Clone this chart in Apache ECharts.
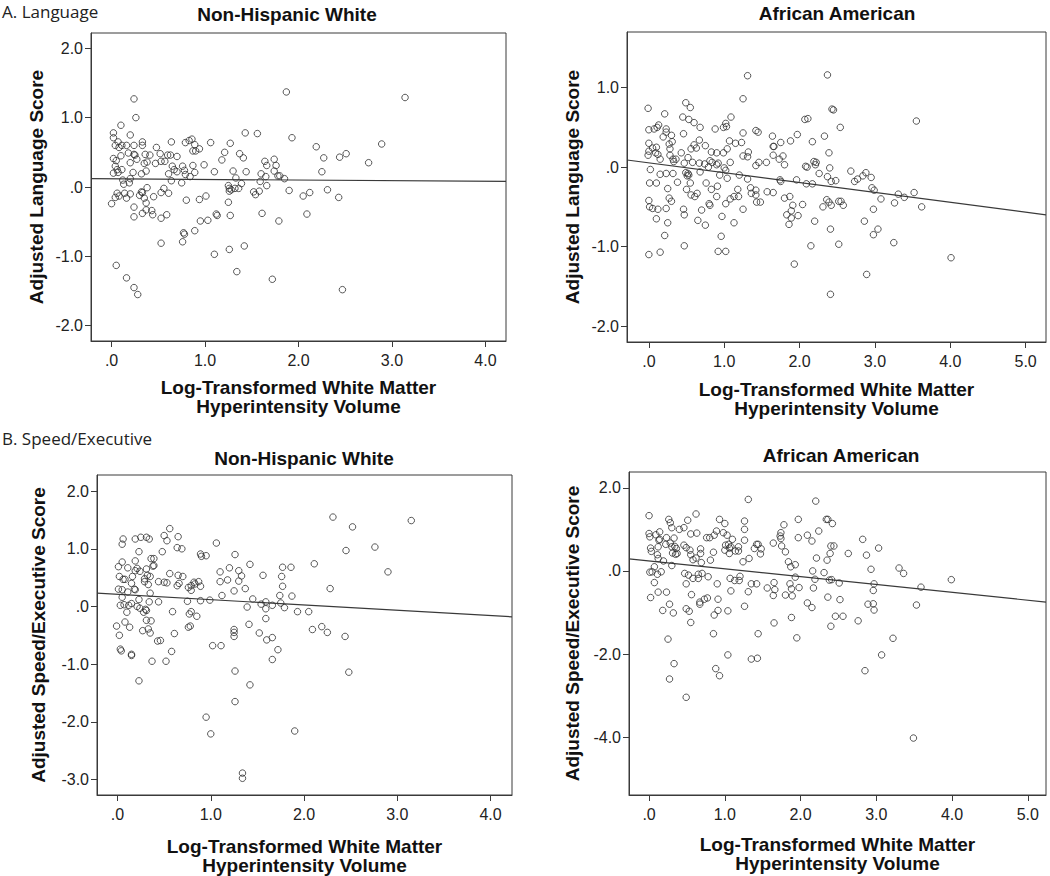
<!DOCTYPE html>
<html>
<head>
<meta charset="utf-8">
<script src="https://cdn.jsdelivr.net/npm/echarts@6.0.0/dist/echarts.min.js"></script>
<style>
html,body{margin:0;padding:0;background:#fff;}
#chart{width:1050px;height:876px;}
</style>
</head>
<body>
<div id="chart"></div>
<script>
// ---------- DATA ----------
const sectionLabels = ["A. Language", "B. Speed/Executive"];
const panelTitles = ["Non-Hispanic White", "African American", "Non-Hispanic White", "African American"];
const yNames = ["Adjusted Language Score", "Adjusted Language Score", "Adjusted Speed/Executive Score", "Adjusted Speed/Executive Score"];
const xName = "Log-Transformed White Matter\nHyperintensity Volume";

const xTicksWhite = [0, 1, 2, 3, 4];
const xTicksAA = [0, 1, 2, 3, 4, 5];
const yTicksLangWhite = [-2, -1, 0, 1, 2];
const yTicksLangAA = [-2, -1, 0, 1];
const yTicksSpeedWhite = [-3, -2, -1, 0, 1, 2];
const yTicksSpeedAA = [-4, -2, 0, 2];

const langWhite = [
[0.24,1.27],[0.26,1.0],[1.87,1.37],[3.14,1.29],[0.10,0.89],
[0.02,0.78],[0.02,0.71],[0.20,0.75],[1.43,0.78],[1.56,0.77],[1.93,0.71],[2.89,0.62],[2.19,0.58],[1.06,0.64],[1.27,0.63],[0.64,0.65],
[0.79,0.64],[0.83,0.67],[0.86,0.69],[0.89,0.61],[0.94,0.55],[0.87,0.52],[0.90,0.52],[0.48,0.57],[0.33,0.65],[0.33,0.60],[0.24,0.60],[0.16,0.60],[0.11,0.60],[0.04,0.60],[0.07,0.65],[0.08,0.57],
[0.18,0.49],[0.24,0.47],[0.25,0.46],[0.36,0.47],[0.41,0.46],[0.52,0.48],[0.60,0.46],[0.63,0.46],[0.70,0.44],[1.21,0.50],[1.37,0.48],[1.41,0.42],[2.27,0.42],[2.44,0.43],[2.51,0.48],[2.75,0.35],
[1.18,0.39],[1.64,0.37],[1.74,0.40],[1.66,0.31],[1.76,0.31],[0.02,0.41],[0.05,0.38],[0.10,0.45],[0.20,0.35],[0.27,0.40],[0.35,0.34],[0.38,0.36],[0.47,0.34],[0.53,0.37],[0.57,0.37],[0.65,0.30],[0.76,0.30],[0.87,0.31],[0.99,0.32],
[0.04,0.30],[0.06,0.25],[0.11,0.25],[0.02,0.20],[0.07,0.21],[0.23,0.21],[0.32,0.19],[0.37,0.23],[0.61,0.19],[0.67,0.25],[0.70,0.22],[0.78,0.24],[0.79,0.18],[0.84,0.15],[0.89,0.21],[1.10,0.22],[1.30,0.23],[1.44,0.22],[1.60,0.19],[1.74,0.23],[1.78,0.16],[1.80,0.16],[1.85,0.12],[2.25,0.22],[1.33,0.13],[1.65,0.15],
[0.12,0.10],[0.20,0.12],[0.19,0.06],[0.13,0.04],[0.64,0.09],[0.75,0.06],[1.39,0.05],[1.59,0.08],[1.66,0.02],[1.25,0.02],[1.26,-0.02],[1.26,-0.06],[1.28,-0.04],[1.32,-0.02],[1.36,-0.02],[1.90,-0.05],[2.12,-0.08],[2.31,-0.04],[2.05,-0.13],[2.43,-0.15],[1.52,-0.07],[1.54,-0.11],[1.58,-0.06],
[0.00,-0.24],[0.04,-0.15],[0.06,-0.09],[0.08,-0.13],[0.14,-0.09],[0.16,-0.16],[0.20,-0.10],[0.38,-0.01],[0.32,-0.07],[0.33,-0.08],[0.30,-0.12],[0.35,-0.16],[0.37,-0.23],[0.37,-0.33],[0.24,-0.29],[0.24,-0.43],[0.33,-0.38],[0.43,-0.34],[0.44,-0.40],[0.45,-0.14],[0.53,-0.08],[0.56,-0.02],[0.61,-0.09],[0.53,-0.45],[0.59,-0.40],[0.80,-0.19],[0.94,-0.18],[1.01,-0.13],[1.25,-0.22],[1.12,-0.39],[1.13,-0.41],[1.27,-0.41],[0.95,-0.49],[1.03,-0.48],[1.61,-0.38],[1.79,-0.49],[2.09,-0.39],
[0.89,-0.63],[0.77,-0.66],[0.78,-0.68],[0.53,-0.81],[0.76,-0.79],[1.26,-0.90],[1.42,-0.85],[1.10,-0.97],[1.34,-1.22],[1.72,-1.33],[2.47,-1.48],[0.05,-1.13],[0.16,-1.31],[0.24,-1.45],[0.28,-1.55]
];

const langAA = [
[1.31,1.15],[2.37,1.16],[1.25,0.86],[-0.01,0.74],[0.49,0.81],[0.55,0.75],[2.43,0.73],[2.45,0.72],[3.55,0.58],[0.21,0.67],[0.45,0.63],[0.53,0.60],[0.60,0.56],[0.68,0.50],[1.09,0.63],[1.02,0.55],[1.03,0.51],[0.99,0.50],[0.88,0.48],[2.07,0.60],[2.11,0.61],[2.54,0.50],
[0.00,0.47],[0.07,0.48],[0.11,0.50],[0.13,0.53],[0.23,0.48],[0.23,0.44],[0.30,0.40],[0.19,0.38],[0.46,0.42],[1.42,0.46],[1.45,0.44],[1.64,0.39],[1.25,0.43],[1.07,0.33],[1.15,0.30],[1.23,0.31],[0.67,0.34],[0.60,0.28],[0.63,0.24],[0.75,0.27],[0.56,0.23],[0.83,0.19],[0.90,0.18],[0.99,0.18],[1.04,0.23],[1.75,0.31],[1.65,0.26],[1.66,0.26],[1.88,0.33],[1.97,0.41],[2.17,0.32],[2.33,0.39],[2.39,0.18],
[0.00,0.30],[0.05,0.24],[0.10,0.25],[0.00,0.20],[-0.01,0.15],[0.09,0.18],[0.12,0.16],[0.15,0.10],[0.27,0.29],[0.28,0.23],[0.31,0.32],[0.28,0.15],[0.32,0.10],[0.33,0.07],[0.36,0.10],[0.43,0.18],[0.47,0.05],[0.52,0.12],[0.58,0.06],[0.67,0.05],[0.74,0.04],[0.79,0.00],[0.81,0.08],[0.84,0.06],[0.90,0.03],[0.92,0.05],[0.94,-0.10],[1.00,-0.01],[1.02,-0.04],[1.04,-0.14],[1.08,0.06],[1.20,-0.10],[1.25,0.14],[1.31,0.13],[1.32,0.19],[1.31,-0.15],[1.42,0.02],[1.46,0.06],[1.56,0.06],[1.73,0.10],[1.78,0.14],[1.80,0.03],[1.65,0.15],
[2.08,0.01],[2.10,0.00],[2.19,0.07],[2.22,0.06],[2.21,0.03],[2.26,-0.08],[2.40,-0.01],[2.68,-0.05],[2.88,-0.07],[2.95,-0.13],[2.77,-0.15],[2.73,-0.18],[2.84,-0.11],[1.74,-0.16],[1.75,-0.18],[1.96,-0.16],[2.09,-0.21],[2.17,-0.21],[2.37,-0.12],[2.42,-0.18],[2.48,-0.17],
[0.02,-0.03],[0.01,-0.20],[0.10,-0.20],[0.15,-0.09],[0.23,-0.08],[0.32,-0.08],[0.25,-0.27],[0.38,-0.19],[0.49,-0.07],[0.52,-0.08],[0.53,-0.10],[0.51,-0.11],[0.50,-0.28],[0.55,-0.20],[0.56,-0.35],[0.61,-0.37],[0.64,-0.33],[0.68,-0.06],[0.76,-0.20],[0.83,-0.28],[0.90,-0.37],[0.91,-0.24],[0.80,-0.46],[0.81,-0.48],[1.02,-0.46],[1.08,-0.40],[1.13,-0.37],[1.19,-0.37],[1.18,-0.28],[1.35,-0.26],[1.36,-0.33],[1.42,-0.29],[1.42,-0.35],[1.43,-0.44],[1.48,-0.44],[1.65,-0.32],[1.57,-0.31],
[0.00,-0.42],[0.01,-0.50],[0.05,-0.52],[0.12,-0.53],[0.23,-0.52],[0.27,-0.39],[0.30,-0.43],[0.46,-0.53],[0.47,-0.60],[0.10,-0.65],[0.25,-0.70],[0.65,-0.67],[0.70,-0.54],[0.75,-0.73],[0.97,-0.62],[1.25,-0.53],[1.13,-0.70],[1.80,-0.39],[1.87,-0.37],[1.83,-0.60],[1.89,-0.55],[1.86,-0.72],[1.89,-0.64],[1.91,-0.48],[1.98,-0.61],[2.04,-0.47],[2.20,-0.68],[2.31,-0.50],[2.36,-0.41],[2.39,-0.44],[2.42,-0.48],[2.52,-0.43],[2.55,-0.43],[2.58,-0.48],[2.41,-0.78],[2.52,-0.97],[2.15,-0.99],[2.86,-0.68],[2.98,-0.53],[3.04,-0.78],[2.98,-0.85],[3.08,-0.40],[2.96,-0.26],[2.99,-0.29],[3.26,-0.45],[3.31,-0.34],[3.39,-0.38],[3.52,-0.32],[3.62,-0.50],[3.25,-0.95],[4.01,-1.14],[2.89,-1.35],[2.41,-1.60],[1.93,-1.22],[0.96,-0.87],[0.92,-1.06],[1.02,-1.06],[0.47,-0.99],[0.21,-0.86],[0.00,-1.10],[0.15,-1.07]
];

const speedWhite = [
[2.31,1.55],[3.15,1.49],[2.52,1.38],[2.76,1.03],[2.90,0.60],[2.45,0.97],[2.28,0.31],[2.11,0.74],[2.09,-0.40],[2.19,-0.35],[2.25,-0.45],[2.44,-0.52],[2.48,-1.14],[2.05,-0.09],[1.93,-0.09],[1.90,-2.16],[1.79,-0.02],[1.77,0.35],[1.87,0.18],[1.86,0.68],[1.77,0.68],[1.76,0.52],[1.74,0.19],[1.75,0.06],[1.66,0.02],[1.59,-0.04],[1.59,0.08],[1.54,0.04],[1.56,0.54],[1.45,0.13],[1.42,0.73],[1.39,-0.01],[1.37,0.31],[1.33,0.53],[1.30,0.44],[1.30,0.62],[1.26,0.90],[1.25,0.27],[1.20,0.67],[1.18,0.46],[1.12,0.19],[1.10,0.43],[1.10,0.60],[1.06,1.10],[0.99,0.11],[0.89,0.10],[0.90,0.87],[0.89,0.91],[0.95,0.88],[0.87,0.43],[0.89,0.35],[0.83,0.39],[0.82,0.42],[0.79,0.36],[0.76,0.33],[0.79,0.28],[0.75,0.09],[0.79,-0.09],[0.77,-0.13],[0.85,-0.17],[0.70,0.52],[0.65,0.54],[0.56,0.57],[0.64,0.36],[0.66,0.40],[0.69,1.00],[0.64,1.02],[0.65,1.21],[0.56,1.35],[0.50,1.23],[0.53,1.14],[0.48,0.95],[0.44,0.43],[0.50,0.42],[0.53,0.41],[0.44,0.08],[0.34,1.17],[0.31,1.20],[0.25,1.20],[0.19,1.17],[0.06,1.17],[0.05,1.08],[0.36,0.83],[0.39,0.83],[0.39,0.71],[0.38,0.70],[0.23,0.95],[0.19,0.79],[0.21,0.66],[0.19,0.62],[0.24,0.61],[0.11,0.67],[0.01,0.69],[0.05,0.77],[0.02,0.52],[0.06,0.47],[0.08,0.47],[0.16,0.52],[0.31,0.65],[0.32,0.54],[0.35,0.52],[0.29,0.48],[0.29,0.43],[0.33,0.38],[0.01,0.30],[0.05,0.29],[0.11,0.25],[0.15,0.40],[0.18,0.30],[0.19,0.29],[0.35,0.23],[0.23,0.12],[0.34,0.08],[0.05,0.16],[0.03,0.02],[0.07,0.03],[0.12,0.02],[0.15,0.05],[0.21,0.00],[0.24,-0.03],[0.10,-0.10],[0.31,-0.07],[0.28,-0.10],[0.30,-0.05],[-0.01,-0.34],[0.02,-0.50],[0.08,-0.27],[0.13,-0.36],[0.27,-0.42],[0.31,-0.24],[0.33,-0.39],[0.36,-0.25],[0.35,-0.46],[0.43,-0.60],[0.46,-0.59],[0.61,-0.47],[0.59,-0.09],[0.58,-0.78],[0.52,-0.95],[0.37,-0.95],[0.03,-0.74],[0.04,-0.77],[0.15,-0.85],[0.15,-0.83],[0.23,-1.29],[0.76,-0.36],[0.78,-0.34],[0.95,-1.92],[1.00,-2.21],[1.02,-0.68],[1.11,-0.68],[1.25,-0.40],[1.25,-0.45],[1.25,-0.52],[1.26,-1.12],[1.26,-1.65],[1.41,-0.31],[1.42,-1.36],[1.34,-2.89],[1.34,-2.98],[1.52,-0.46],[1.59,-0.21],[1.60,-0.58],[1.66,-0.54],[1.66,-0.92],[1.72,-0.75]
];

const speedAA = [
[1.31,1.72],[2.20,1.68],[0.00,1.33],[0.62,1.37],[0.26,1.24],[0.28,1.16],[0.30,1.04],[0.51,1.22],[0.40,1.00],[0.46,1.04],[0.93,1.24],[1.00,1.14],[1.26,1.20],[1.26,1.00],[1.78,1.11],[1.97,1.24],[2.34,1.24],[2.36,1.24],[2.42,1.14],[2.24,0.96],
[0.00,0.90],[0.01,0.82],[0.09,0.87],[0.14,0.94],[0.13,0.74],[0.14,0.76],[0.23,0.80],[0.33,0.79],[0.28,0.67],[0.55,0.89],[0.63,0.91],[0.76,0.80],[0.80,0.80],[0.86,0.86],[0.89,0.96],[0.98,0.92],[1.03,0.86],[1.10,0.76],[1.05,0.64],[1.01,0.62],[1.26,0.74],[1.74,0.92],[1.73,0.84],[1.74,0.78],[1.75,0.60],[1.64,0.67],[1.97,0.80],[2.09,0.86],[2.15,0.72],[2.82,0.76],[3.03,0.55],[2.40,0.60],[2.44,0.60],[2.39,0.42],
[0.02,0.55],[0.03,0.47],[0.12,0.58],[0.11,0.39],[0.12,0.30],[0.22,0.64],[0.30,0.58],[0.34,0.59],[0.36,0.54],[0.31,0.43],[0.35,0.40],[0.46,0.62],[0.49,0.56],[0.54,0.50],[0.55,0.39],[0.58,0.27],[0.62,0.31],[0.68,0.53],[0.68,0.42],[0.85,0.45],[0.81,0.26],[0.69,0.20],[1.00,0.50],[1.06,0.55],[1.08,0.58],[1.14,0.48],[1.18,0.48],[1.18,0.58],[1.06,0.42],[1.47,0.41],[1.39,0.54],[1.42,0.64],[1.44,0.64],[1.48,0.53],[1.32,0.30],[1.24,0.22],[1.80,0.46],[1.84,0.22],[1.87,0.10],[1.93,0.15],[2.21,0.31],[2.35,0.26],[2.63,0.42],[2.87,0.38],[2.93,0.04],[3.30,0.07],[3.36,-0.06],[3.99,-0.21],[3.59,-0.39],[3.53,-0.82],[3.49,-4.02],[3.22,-1.62],[3.07,-2.02],[2.85,-2.40],[2.89,-0.80],[2.96,-0.79],[2.97,-0.94],[2.96,-0.47],[2.97,-0.31],[2.76,-1.20],[2.51,-0.29],[2.52,-0.69],[2.46,-1.09],[2.56,-1.09],[2.40,-1.33],[2.36,-0.63],[2.38,-0.22],[2.41,-0.21],[2.31,-0.04],[2.16,0.00],[2.19,-0.20],[2.17,-0.41],[2.09,-0.77],[2.15,-0.88],[1.98,-0.40],[1.93,-0.15],[1.86,-0.31],[1.88,-0.43],[1.80,-0.58],[1.89,-0.60],[1.88,-1.12],[1.95,-1.61],[1.65,-0.28],[1.66,-0.45],[1.64,-0.59],[1.65,-1.25],[1.56,-0.41],[1.44,-1.51],[1.43,-2.10],[1.35,-2.12],[1.35,-0.31],[1.42,-0.31],[1.31,-0.50],[1.26,-0.85],[1.20,-0.13],[1.19,-0.23],[1.13,-0.23],[1.07,-0.18],[1.08,-0.48],[1.04,-0.96],[1.04,-2.02],[0.90,-0.31],[0.91,-0.68],[0.91,-0.95],[0.86,-1.06],[0.85,-1.51],[0.88,-2.35],[0.93,-2.52],[0.70,-0.06],[0.78,-0.14],[0.77,-0.65],[0.73,-0.68],[0.67,-0.75],[0.67,-0.80],[0.65,-0.08],[0.65,-0.18],[0.58,-0.18],[0.56,-0.57],[0.55,-1.24],[0.52,-0.10],[0.49,-0.31],[0.47,-0.06],[0.49,-0.91],[0.53,-0.97],[0.49,-3.04],[0.23,-0.51],[0.27,-0.80],[0.32,-1.01],[0.18,-0.95],[0.25,-1.64],[0.33,-2.23],[0.27,-2.60],[0.12,-0.51],[0.02,-0.64],[0.07,-0.28],[0.01,-0.03],[0.04,-0.02],[0.16,-0.02],[0.11,-0.08],[0.07,0.10],[0.19,0.24],[0.30,0.13],[0.37,0.42]
];

// fit lines (endpoints)
const fitLangWhite = [[-0.22, 0.12], [4.22, 0.08]];
const fitLangAA = [[-0.29, 0.09], [5.27, -0.60]];
const fitSpeedWhite = [[-0.22, 0.23], [4.23, -0.18]];
const fitSpeedAA = [[-0.265, 0.29], [5.24, -0.75]];

// ---------- LAYOUT ----------
const panels = [
  {data: langWhite, fit: fitLangWhite, xt: xTicksWhite, yt: yTicksLangWhite, xr: [-0.22, 4.22], yr: [-2.22, 2.22],
   grid: {left: 91, top: 33, width: 415, height: 308}, yGap: 45, xGap: 37, title: [287, 14]},
  {data: langAA, fit: fitLangAA, xt: xTicksAA, yt: yTicksLangAA, xr: [-0.29, 5.27], yr: [-2.2, 1.7],
   grid: {left: 627, top: 32, width: 419, height: 310}, yGap: 45, xGap: 38, title: [837, 13]},
  {data: speedWhite, fit: fitSpeedWhite, xt: xTicksWhite, yt: yTicksSpeedWhite, xr: [-0.22, 4.23], yr: [-3.27, 2.28],
   grid: {left: 97, top: 475, width: 415, height: 321}, yGap: 49, xGap: 42, title: [304, 458]},
  {data: speedAA, fit: fitSpeedAA, xt: xTicksAA, yt: yTicksSpeedAA, xr: [-0.265, 5.24], yr: [-5.39, 2.38],
   grid: {left: 629, top: 472, width: 417, height: 323}, yGap: 47, xGap: 40, title: [841, 455]}
];

const FONT = "'Liberation Sans', Arial, sans-serif";
const fmt = v => (v === 0 ? '.0' : v.toFixed(1));

const grids = [], xAxes = [], yAxes = [], series = [], graphics = [];
panels.forEach((p, i) => {
  grids.push(Object.assign({show: true, borderColor: '#3a3a3a', borderWidth: 1, backgroundColor: 'transparent', containLabel: false}, p.grid));
  xAxes.push({
    type: 'value', gridIndex: i, min: p.xr[0], max: p.xr[1],
    name: xName, nameLocation: 'middle', nameGap: p.xGap,
    nameTextStyle: {fontFamily: FONT, fontWeight: 'bold', fontSize: 19, color: '#111', lineHeight: 19},
    axisLine: {show: true, onZero: false, lineStyle: {color: '#3a3a3a', width: 1}},
    axisTick: {show: true, inside: false, length: 6, customValues: p.xt, lineStyle: {color: '#3a3a3a'}},
    axisLabel: {show: true, customValues: p.xt, formatter: fmt, margin: 11, fontFamily: FONT, fontSize: 16, color: '#222'},
    splitLine: {show: false}
  });
  yAxes.push({
    type: 'value', gridIndex: i, min: p.yr[0], max: p.yr[1],
    name: yNames[i], nameLocation: 'middle', nameGap: p.yGap,
    nameTextStyle: {fontFamily: FONT, fontWeight: 'bold', fontSize: 19, color: '#111'},
    axisLine: {show: true, onZero: false, lineStyle: {color: '#3a3a3a', width: 1}},
    axisTick: {show: true, inside: false, length: 6, customValues: p.yt, lineStyle: {color: '#3a3a3a'}},
    axisLabel: {show: true, customValues: p.yt, formatter: fmt, margin: 8, fontFamily: FONT, fontSize: 16, color: '#222'},
    splitLine: {show: false}
  });
  series.push({
    type: 'scatter', xAxisIndex: i, yAxisIndex: i, data: p.data,
    symbol: 'circle', symbolSize: 6.5,
    itemStyle: {color: 'rgba(255,255,255,0)', borderColor: '#2e2e2e', borderWidth: 1},
    silent: true, z: 3
  });
  series.push({
    type: 'line', xAxisIndex: i, yAxisIndex: i, data: p.fit,
    showSymbol: false, symbol: 'none',
    lineStyle: {color: '#3a3a3a', width: 1.2},
    silent: true, z: 2
  });
  graphics.push({
    type: 'text', x: p.title[0], y: p.title[1],
    style: {text: panelTitles[i], font: "bold 19px " + FONT, fill: '#111', textAlign: 'center', textVerticalAlign: 'middle'}
  });
});
graphics.push({type: 'text', x: 2, y: 11, style: {text: sectionLabels[0], font: "17px 'Open Sans', 'Noto Sans', sans-serif", fill: '#222', textAlign: 'left', textVerticalAlign: 'middle'}});
graphics.push({type: 'text', x: 2, y: 438, style: {text: sectionLabels[1], font: "17px 'Open Sans', 'Noto Sans', sans-serif", fill: '#222', textAlign: 'left', textVerticalAlign: 'middle'}});

const chart = echarts.init(document.getElementById('chart'), null, {renderer: 'svg', width: 1050, height: 876});
chart.setOption({
  animation: false,
  backgroundColor: '#fff',
  grid: grids,
  xAxis: xAxes,
  yAxis: yAxes,
  series: series,
  graphic: graphics
});
</script>
</body>
</html>
